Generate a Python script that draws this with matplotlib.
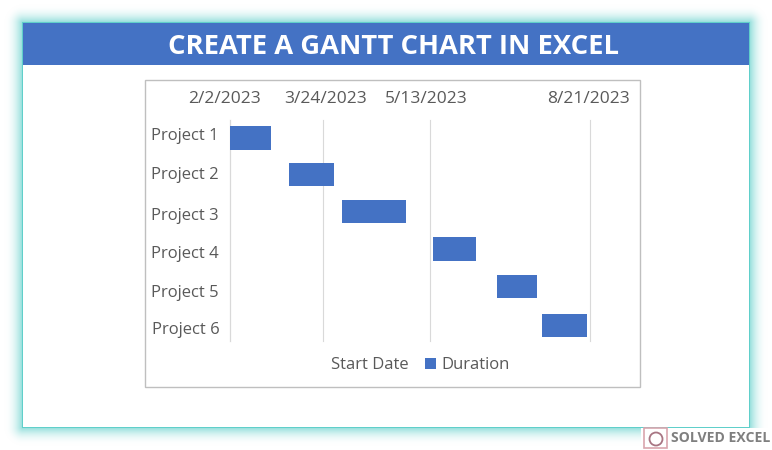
import matplotlib
matplotlib.use('Agg')
import matplotlib.pyplot as plt
import matplotlib.transforms as mtrans
import numpy as np
from matplotlib.patches import Circle, Rectangle

W, H = 772, 450

projects = ['Project 1', 'Project 2', 'Project 3', 'Project 4', 'Project 5', 'Project 6']
# days after 2/2/2023
start_days = [0, 32, 59, 102, 142, 170]
durations = [22, 23, 30, 27, 25, 28]
tick_days = [0, 50, 100, 200]
tick_labels = ['2/2/2023', '3/24/2023', '5/13/2023', '8/21/2023']

# the date axis in the screenshot is not evenly spaced
axis_days = [0, 50, 100, 200]
axis_pos = [0, 93.5, 200.5, 360.5]

BLUE = '#4472C4'
GREY = '#595959'
TEAL = np.array([88, 205, 200]) / 255

plt.rcParams['font.family'] = 'Open Sans'


def to_pos(v):
    return np.interp(v, axis_days, axis_pos)


def to_days(v):
    return np.interp(v, axis_pos, axis_days)


def box(x0, y0, x1, y1):
    # pixel box, y from the top of the image
    return [x0 / W, 1 - y1 / H, (x1 - x0) / W, (y1 - y0) / H]


fig = plt.figure(figsize=(W / 100, H / 100), dpi=100, facecolor='white')

# page layer in image pixels
bg = fig.add_axes([0, 0, 1, 1])
bg.set_xlim(0, W)
bg.set_ylim(H, 0)
bg.axis('off')

# teal glow round the card
xx, yy = np.meshgrid(np.arange(W) + 0.5, np.arange(H) + 0.5)
dx = np.maximum(np.maximum(23 - xx, xx - 749), 0)
dy = np.maximum(np.maximum(23 - yy, yy - 427), 0)
dist = np.hypot(dx, dy)
alpha = np.clip(1 - dist / 19, 0, 1) ** 2.2 * 0.7
alpha[dist > 0] = np.where(dist[dist > 0] < 1.5, 0.95, alpha[dist > 0])
glow = np.ones((H, W, 3)) * (1 - alpha[..., None]) + TEAL * alpha[..., None]
bg.imshow(glow, extent=(0, W, H, 0), aspect='auto', zorder=0)

bg.add_patch(Rectangle((23, 23), 726, 404, fc='white', ec='none', zorder=1))
bg.add_patch(Rectangle((23, 23), 726, 42, fc=BLUE, ec='none', zorder=2))
bg.text(394, 47.5, 'CREATE A GANTT CHART IN EXCEL', color='white', fontsize=19.7,
        fontweight='bold', ha='center', va='center', zorder=3)
bg.add_patch(Rectangle((145, 79.5), 495, 307.5, fc='white', ec='#BFBFBF', lw=1, zorder=2))

# watermark
bg.add_patch(Rectangle((641, 428), 131, 22, fc='white', ec='none', zorder=2))
bg.add_patch(Rectangle((643.5, 428), 23, 20, fc='none', ec='#D9A6AE', lw=1.2, zorder=3))
bg.add_patch(Circle((656, 439), 6.5, fc='none', ec='#A87583', lw=1.3, zorder=3))
bg.text(671, 438.5, 'SOLVED EXCEL', color='#7F7F7F', fontsize=10.1, fontweight='bold',
        ha='left', va='center', zorder=3)

# chart
ax = fig.add_axes(box(229.5, 120, 590, 341), facecolor='none')
ax.set_xscale('function', functions=(to_pos, to_days))
ax.set_xlim(0, 200)
ax.set_ylim(5.5, -0.5)

# row positions wander a little in the reference
bar_rows = [-0.01, 0.98, 1.99, 3.0, 4.01, 5.08]
label_rows = [-0.11, 0.95, 2.04, 3.08, 4.15, 5.15]
label_nudge = [0, 0, 0, 0, 0, 1]
date_nudge = [-5, 3, -4, -2]

ax.barh(bar_rows, start_days, height=0.63, color='none', label='Start Date')
ax.barh(bar_rows, durations, left=start_days, height=0.63, color=BLUE, label='Duration', zorder=3)

ax.set_yticks(label_rows)
ax.set_yticklabels(projects, fontsize=12, color=GREY)
ax.tick_params(axis='y', length=0, pad=8)
for lab, n in zip(ax.get_yticklabels(), label_nudge):
    lab.set_transform(lab.get_transform() + mtrans.ScaledTranslation(n / 100, 0, fig.dpi_scale_trans))

ax.xaxis.tick_top()
ax.set_xticks(tick_days)
ax.set_xticklabels(tick_labels, fontsize=12.5, color=GREY)
ax.tick_params(axis='x', length=0, pad=9.5)
for lab, n in zip(ax.get_xticklabels(), date_nudge):
    lab.set_transform(lab.get_transform() + mtrans.ScaledTranslation(n / 100, 0, fig.dpi_scale_trans))

ax.grid(axis='x', color='#D9D9D9', lw=0.8, zorder=0)
for line in ax.get_xgridlines():
    line.set_clip_on(False)
ax.set_axisbelow(True)
for side in ['top', 'right', 'bottom']:
    ax.spines[side].set_visible(False)
ax.spines['left'].set_color('#D9D9D9')
ax.spines['left'].set_linewidth(0.8)

leg = ax.legend(loc='center', bbox_to_anchor=((412 - 229.5) / 360.5, -(365 - 341) / 221), ncols=2,
                frameon=False, fontsize=12, labelcolor=GREY, handlelength=0.65, handleheight=0.65,
                handletextpad=0.35, columnspacing=1.0)

fig.savefig('out.png', dpi=100)
